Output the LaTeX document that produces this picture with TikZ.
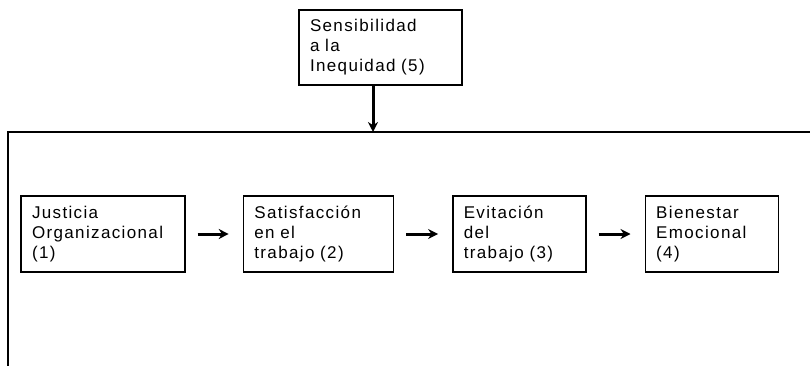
\documentclass[tikz,border=0pt]{standalone}
\usepackage{fontspec}
\newfontfamily\boxfont{Liberation Sans}[LetterSpace=8]
\usepackage{tikz}
\usetikzlibrary{arrows,arrows.meta,positioning}

\begin{document}
\begin{tikzpicture}[>={Stealth[length=10pt, width=10pt]}, x=1pt, y=-1pt, node distance=57pt]
				\tikzstyle{format} = [draw, line width=1.4pt, minimum height=76pt, inner xsep=11pt, align=left, font=\boxfont\fontsize{17}{20}\selectfont]
				\tikzstyle{flecha} = [->, line width=3pt]
				\useasboundingbox (0,0) rectangle (810,366);
				% marco
				\draw[line width=1.4pt] (810,132) -| (8,366);
				\coordinate (F) at (373,132);
				\node[format, text width=141pt, minimum height=75pt] (I) at (380.5,47.5) {Sensibilidad\\a la\\Inequidad (5)};
				\draw[flecha] (I.south -| F) -- (F);
				\node[format, text width=142pt] (J) at (103,234) {Justicia\\Organizacional\\(1)};
				\node[format, text width=128pt, right=of J] (S) {Satisfacción\\en el\\trabajo (2)};
				\node[format, text width=111pt, right=58pt of S] (E) {Evitación\\del\\trabajo (3)};
				\node[format, text width=111pt, right=58pt of E] (B) {Bienestar\\Emocional\\(4)};
				\draw[flecha, shorten <=12pt, shorten >=14pt] (J) -- (S);
				\draw[flecha, shorten <=12pt, shorten >=14pt] (S) -- (E);
				\draw[flecha, shorten <=12pt, shorten >=14pt] (E) -- (B);
			\end{tikzpicture}
\end{document}
